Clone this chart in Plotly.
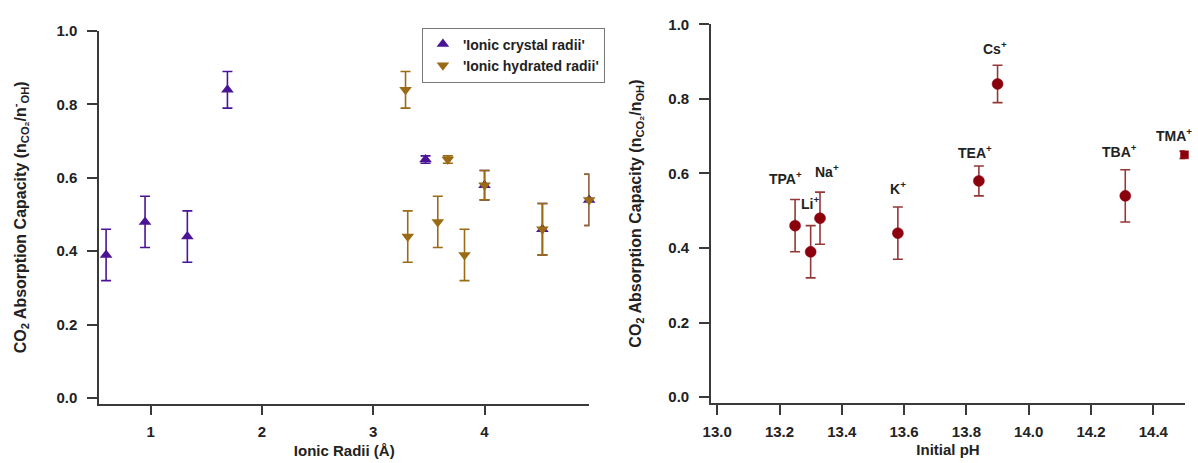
import plotly.graph_objects as go

# ---- data ----
cations = ["Li", "Na", "K", "Cs", "TMA", "TEA", "TPA", "TBA"]
crystal_radii = [0.60, 0.95, 1.33, 1.69, 3.47, 4.00, 4.52, 4.94]
hydrated_radii = [3.82, 3.58, 3.31, 3.29, 3.67, 4.00, 4.52, 4.94]
capacity = [0.39, 0.48, 0.44, 0.84, 0.65, 0.58, 0.46, 0.54]
capacity_err = [0.07, 0.07, 0.07, 0.05, 0.01, 0.04, 0.07, 0.07]
initial_pH = [13.30, 13.33, 13.58, 13.90, 14.50, 13.84, 13.25, 14.31]

# label offsets (pixels) for right-panel annotations
label_dx = [-1, 7, 0, -3, -10, -4, -10, -6]
label_dy = [49, 47, 45, 36, 20, 29, 48, 45]

W, H = 1198, 463
FONT = "Liberation Sans, Arial, sans-serif"
PURPLE = "#4b1496"
BROWN = "#9a6a14"
RED = "#8c000e"
RED_ERR = "#943838"
AXC = "#3a3a3a"

fig = go.Figure()

fig.add_trace(go.Scatter(
    x=crystal_radii, y=capacity, mode="markers", name="'Ionic crystal radii'",
    marker=dict(symbol="triangle-up", size=11, color=PURPLE),
    error_y=dict(type="data", array=capacity_err, color=PURPLE, thickness=1.6, width=5),
    cliponaxis=False, xaxis="x", yaxis="y"))
fig.add_trace(go.Scatter(
    x=hydrated_radii, y=capacity, mode="markers", name="'Ionic hydrated radii'",
    marker=dict(symbol="triangle-down", size=11, color=BROWN),
    error_y=dict(type="data", array=capacity_err, color=BROWN, thickness=1.6, width=5),
    cliponaxis=False, xaxis="x", yaxis="y"))

symbols = ["square" if c == "TMA" else "circle" for c in cations]
sizes = [8 if c == "TMA" else 11 for c in cations]
fig.add_trace(go.Scatter(
    x=initial_pH, y=capacity, mode="markers", showlegend=False,
    marker=dict(symbol=symbols, size=sizes, color=RED, opacity=1,
                line=dict(width=0.5, color=RED)),
    error_y=dict(type="data", array=capacity_err, color=RED_ERR, thickness=1.6, width=5),
    cliponaxis=False, xaxis="x2", yaxis="y2"))

for c, xv, yv, dx, dy in zip(cations, initial_pH, capacity, label_dx, label_dy):
    fig.add_annotation(
        x=xv, y=yv, xref="x2", yref="y2", text=f"{c}<sup>+</sup>", showarrow=False,
        xanchor="center", yanchor="middle", xshift=dx, yshift=dy,
        font=dict(family=FONT, size=14, color="#222", weight=700))

def px_x(p):
    return p / W

def px_y(p):
    return 1 - p / H

tickfont = dict(family=FONT, size=15, color="#222", weight=700)
xtitlefont = dict(family=FONT, size=15, color="#222", weight=700)
ytitlefont = dict(family=FONT, size=16, color="#222", weight=700)

common_axis = dict(showline=True, linecolor=AXC, linewidth=1.5, ticks="outside",
                   ticklen=10, tickwidth=1.5, tickcolor=AXC, showgrid=False,
                   zeroline=False, tickfont=tickfont)

ytitle_left = "CO<sub>2</sub> Absorption Capacity (n<sub>CO₂</sub>/n<sup>-</sup><sub>OH</sub>)"
ytitle_right = "CO<sub>2</sub> Absorption Capacity (n<sub>CO₂</sub>/n<sub>OH</sub>)"

fig.update_layout(
    width=W, height=H, margin=dict(l=0, r=0, t=0, b=0),
    paper_bgcolor="white", plot_bgcolor="white",
    font=dict(family=FONT, color="#222"),
    xaxis=dict(domain=[px_x(91.7), px_x(585.3)], range=[0.537, 4.942], tickvals=[1, 2, 3, 4],
               anchor="y", title=dict(text="Ionic Radii (Å)", font=xtitlefont, standoff=6),
               ticklabelstandoff=4, **common_axis),
    yaxis=dict(domain=[px_y(405), px_y(22.7)], range=[-0.015, 1.0], dtick=0.2, tickformat=".1f",
               anchor="x", title=dict(text=ytitle_left, font=ytitlefont, standoff=26),
               ticklabelstandoff=7, **common_axis),
    xaxis2=dict(domain=[px_x(707.7), px_x(1185)], range=[12.98, 14.502], dtick=0.2, tick0=13.0,
                tickformat=".1f", anchor="y2",
                title=dict(text="Initial pH", font=xtitlefont, standoff=6),
                ticklabelstandoff=4, **common_axis),
    yaxis2=dict(domain=[px_y(404.3), px_y(15.7)], range=[-0.015, 1.0], dtick=0.2, tickformat=".1f",
                anchor="x2", title=dict(text=ytitle_right, font=ytitlefont, standoff=23),
                ticklabelstandoff=7, **common_axis),
    legend=dict(x=px_x(416.7), y=px_y(19), xanchor="left", yanchor="top",
                bordercolor="#777", borderwidth=1, bgcolor="white",
                font=dict(family=FONT, size=14, color="#222", weight=700),
                tracegroupgap=0, itemwidth=30),
    showlegend=True,
)

fig.write_html("out.html")
